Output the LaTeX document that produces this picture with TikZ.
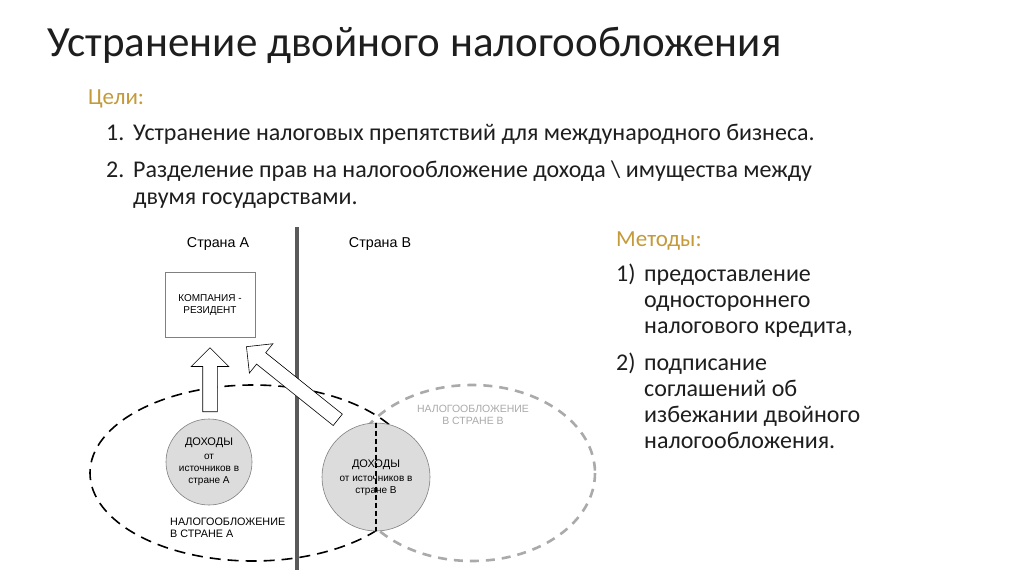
\documentclass[tikz,border=0pt]{standalone}
\usepackage{fontspec}
\setmainfont{Carlito}
\newfontfamily\arialf{Liberation Sans}
\usetikzlibrary{shapes.arrows}
\definecolor{gold}{HTML}{C49A3A}
\definecolor{txt}{HTML}{1E1E1E}
\definecolor{circfill}{HTML}{DCDCDC}
\definecolor{lightgray2}{HTML}{AAAAAA}
\definecolor{divider}{HTML}{5A5A5A}
\tikzset{
  bodytext/.style={anchor=base west, inner sep=0pt, text=txt, font=\fontsize{24}{28}\selectfont},
  headtext/.style={anchor=base west, inner sep=0pt, text=gold, font=\fontsize{23}{26}\selectfont},
  dtext/.style={inner sep=0pt, text=black, font=\arialf\fontsize{10}{12}\selectfont, align=center},
  income/.style={circle, draw=gray, line width=0.6pt, fill=circfill, minimum size=86pt, inner sep=0pt},
  blockarrow/.style={single arrow, draw=black, fill=white, line width=0.6pt, inner sep=7pt, single arrow head extend=11.5pt, minimum width=37pt, anchor=tail},
}
\begin{document}
\begin{tikzpicture}[x=1pt,y=-1pt]
\useasboundingbox[fill=white] (0,0) rectangle (1024,576);

% Title and text
\node[anchor=base west, inner sep=0pt, text=txt, font=\fontsize{43}{48}\selectfont] (title) at (47,56) {Устранение двойного налогообложения};
\node[headtext] (goals) at (88,104) {Цели:};
\node[bodytext] (g1n) at (106,140) {1.};
\node[bodytext] (g1) at (133,140) {Устранение налоговых препятствий для международного бизнеса.};
\node[bodytext] (g2n) at (106,177) {2.};
\node[bodytext] (g2) at (133,177) {Разделение прав на налогообложение дохода \textbackslash{} имущества между};
\node[bodytext] (g2b) at (133,204) {двумя государствами.};

\node[headtext] (methods) at (616,246) {Методы:};
\node[bodytext] (m1n) at (616,281) {1)};
\node[bodytext] (m1a) at (644,281) {предоставление};
\node[bodytext] (m1b) at (644,307) {одностороннего};
\node[bodytext] (m1c) at (644,333) {налогового кредита,};
\node[bodytext] (m2n) at (616,370) {2)};
\node[bodytext] (m2a) at (644,370) {подписание};
\node[bodytext] (m2b) at (644,396) {соглашений об};
\node[bodytext] (m2c) at (644,422) {избежании двойного};
\node[bodytext] (m2d) at (644,448) {налогообложения.};

% Diagram
\draw[black, line width=1.6pt, dash pattern=on 11pt off 7pt] (253,473) ellipse [x radius=163, y radius=88];
\draw[lightgray2, line width=2.6pt, dash pattern=on 9pt off 7pt] (472,473) ellipse [x radius=123, y radius=88];

\node[income] (incA) at (209,462) {};
\node[dtext, font=\arialf\fontsize{11}{12}\selectfont] at (209,443) {ДОХОДЫ};
\node[dtext] at (209,457) {от};
\node[dtext] at (209,469) {источников в};
\node[dtext] at (209,481) {стране А};

\node[income, minimum size=108pt] (incB) at (376,477) {};
\draw[black, line width=1.5pt, dash pattern=on 5pt off 3pt] (incB.north) -- (incB.south);
\node[dtext, font=\arialf\fontsize{11}{12}\selectfont] at (376,465) {ДОХОДЫ};
\node[dtext] at (376,479) {от источников в};
\node[dtext] at (376,491) {стране В};

\node[dtext, text=lightgray2, font=\arialf\fontsize{10.5}{12.5}\selectfont] (taxB) at (473,415) {НАЛОГООБЛОЖЕНИЕ\\ В СТРАНЕ В};
\node[dtext, align=left, anchor=west, font=\arialf\fontsize{10.8}{12.5}\selectfont] (taxA) at (170,528) {НАЛОГООБЛОЖЕНИЕ\\ В СТРАНЕ А};

\coordinate (divtop) at (297,227);
\coordinate (divbot) at (297,570);
\draw[divider, line width=4pt] (divtop) -- (divbot);

\node[dtext, font=\arialf\fontsize{14.3}{16}\selectfont] (cA) at (218,244) {Страна А};
\node[dtext, font=\arialf\fontsize{14.3}{16}\selectfont] (cB) at (380,244) {Страна В};

\node[draw=gray, line width=0.6pt, fill=white, minimum width=90pt, minimum height=65pt, inner sep=0pt] (comp) at (210,304.5) {};
\node[dtext] at (210,298) {КОМПАНИЯ -};
\node[dtext] at (210,311) {РЕЗИДЕНТ};

\node[blockarrow, minimum height=64pt, rotate=90] (arrA) at (210,412) {};
\node[blockarrow, minimum height=117pt, rotate=141.3] (arrB) at (338,420) {};
\end{tikzpicture}
\end{document}
